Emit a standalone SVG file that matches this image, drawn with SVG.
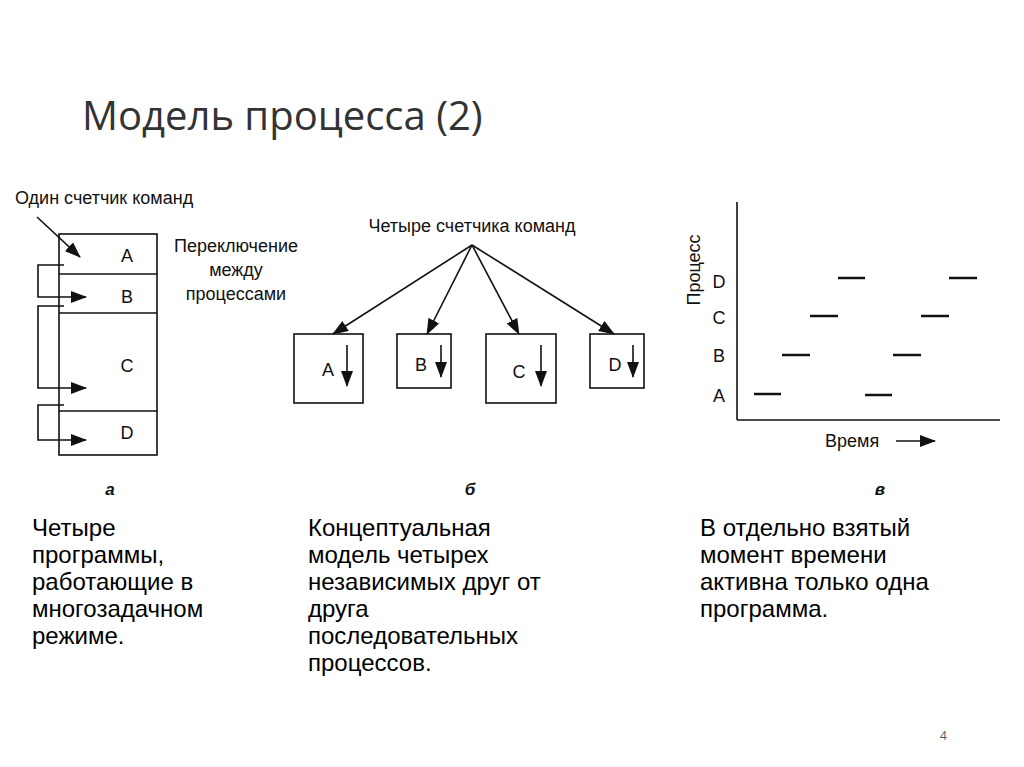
<svg xmlns="http://www.w3.org/2000/svg" width="1024" height="767" viewBox="0 0 1024 767">
<style>
.f{font-family:"Liberation Sans",Arial,sans-serif;fill:#111}
.d{font-size:18px}
.b{font-family:"Liberation Sans",Arial,sans-serif;font-size:24px;fill:#000}
.ln{stroke:#111;stroke-width:1.6;fill:none}
.bx{stroke:#111;stroke-width:1.6;fill:#fff}
.it{font-style:italic;font-weight:bold;font-size:17px}
</style>
<defs>
<marker id="ab" markerWidth="16" markerHeight="12" refX="15" refY="6" orient="auto" markerUnits="userSpaceOnUse"><path d="M0,0 L16,6 L0,12 Z" fill="#111"/></marker>
</defs>
<rect width="1024" height="767" fill="#fff"/>
<text x="82" y="130" font-family="Open Sans, Liberation Sans, sans-serif" font-size="40" fill="#333">Модель процесса (2)</text>

<g id="panel-a">
<text class="f d" x="15" y="204">Один счетчик команд</text>
<rect class="bx" x="59" y="234" width="98" height="221"/>
<line class="ln" x1="59" y1="274" x2="157" y2="274"/>
<line class="ln" x1="59" y1="313" x2="157" y2="313"/>
<line class="ln" x1="59" y1="411" x2="157" y2="411"/>
<text class="f d" x="127" y="262" text-anchor="middle">A</text>
<text class="f d" x="127" y="303" text-anchor="middle">B</text>
<text class="f d" x="127" y="372" text-anchor="middle">C</text>
<text class="f d" x="127" y="439" text-anchor="middle">D</text>
<text class="f d" x="236" y="252" text-anchor="middle">Переключение</text>
<text class="f d" x="236" y="276" text-anchor="middle">между</text>
<text class="f d" x="236" y="300" text-anchor="middle">процессами</text>
</g>
<g id="connectors-a">
<line class="ln" x1="37" y1="217" x2="80" y2="257" marker-end="url(#ab)"/>
<polyline class="ln" points="64,265 38,265 38,297 86,297" marker-end="url(#ab)"/>
<polyline class="ln" points="64,306 38,306 38,388 86,388" marker-end="url(#ab)"/>
<polyline class="ln" points="64,405 38,405 38,440 86,440" marker-end="url(#ab)"/>
</g>
<text class="f it" x="110" y="495" text-anchor="middle">а</text>

<g id="panel-b">
<text class="f d" x="472" y="232" text-anchor="middle">Четыре счетчика команд</text>
<g id="nA"><rect class="bx" x="294" y="334" width="69" height="69"/><text class="f d" x="328" y="376" text-anchor="middle">A</text><line class="ln" x1="347" y1="345" x2="347" y2="386" marker-end="url(#ab)"/></g>
<g id="nB"><rect class="bx" x="397" y="334" width="54" height="54"/><text class="f d" x="421" y="371" text-anchor="middle">B</text><line class="ln" x1="441" y1="345" x2="441" y2="377" marker-end="url(#ab)"/></g>
<g id="nC"><rect class="bx" x="486" y="334" width="70" height="69"/><text class="f d" x="519" y="378" text-anchor="middle">C</text><line class="ln" x1="541" y1="345" x2="541" y2="386" marker-end="url(#ab)"/></g>
<g id="nD"><rect class="bx" x="590" y="334" width="54" height="54"/><text class="f d" x="615" y="371" text-anchor="middle">D</text><line class="ln" x1="633" y1="345" x2="633" y2="377" marker-end="url(#ab)"/></g>
</g>
<g id="connectors-b">
<line class="ln" x1="472" y1="245" x2="333" y2="334" marker-end="url(#ab)"/>
<line class="ln" x1="472" y1="245" x2="427" y2="334" marker-end="url(#ab)"/>
<line class="ln" x1="472" y1="245" x2="519" y2="334" marker-end="url(#ab)"/>
<line class="ln" x1="472" y1="245" x2="614" y2="334" marker-end="url(#ab)"/>
</g>
<text class="f it" x="470" y="495" text-anchor="middle">б</text>

<g id="panel-c">
<line class="ln" x1="737" y1="202" x2="737" y2="420"/>
<line class="ln" x1="737" y1="420" x2="1000" y2="420"/>
<text class="f d" transform="translate(700,270) rotate(-90)" text-anchor="middle">Процесс</text>
<text class="f d" x="719" y="288" text-anchor="middle">D</text>
<text class="f d" x="719" y="324" text-anchor="middle">C</text>
<text class="f d" x="719" y="362" text-anchor="middle">B</text>
<text class="f d" x="719" y="402" text-anchor="middle">A</text>
<g stroke="#111" stroke-width="2.5">
<line x1="754" y1="394" x2="781" y2="394"/><line x1="865" y1="395" x2="892" y2="395"/>
<line x1="782" y1="355" x2="810" y2="355"/><line x1="893" y1="355" x2="921" y2="355"/>
<line x1="810" y1="316" x2="838" y2="316"/><line x1="921" y1="316" x2="949" y2="316"/>
<line x1="838" y1="278" x2="865" y2="278"/><line x1="949" y1="278" x2="977" y2="278"/>
</g>
<text class="f d" x="825" y="447">Время</text>
<line class="ln" x1="896" y1="441" x2="935" y2="441" marker-end="url(#ab)"/>
</g>
<text class="f it" x="880" y="495" text-anchor="middle">в</text>

<g>
<text x="32" y="536" class="b">Четыре</text>
<text x="32" y="563" class="b">программы,</text>
<text x="32" y="590" class="b">работающие в</text>
<text x="32" y="617" class="b">многозадачном</text>
<text x="32" y="644" class="b">режиме.</text>
<text x="308" y="536" class="b">Концептуальная</text>
<text x="308" y="563" class="b">модель четырех</text>
<text x="308" y="590" class="b">независимых друг от</text>
<text x="308" y="617" class="b">друга</text>
<text x="308" y="644" class="b">последовательных</text>
<text x="308" y="671" class="b">процессов.</text>
<text x="700" y="536" class="b">В отдельно взятый</text>
<text x="700" y="563" class="b">момент времени</text>
<text x="700" y="590" class="b">активна только одна</text>
<text x="700" y="617" class="b">программа.</text>
</g>
<text x="940" y="740" font-family="Open Sans, sans-serif" font-size="12" fill="#555">4</text>
</svg>
